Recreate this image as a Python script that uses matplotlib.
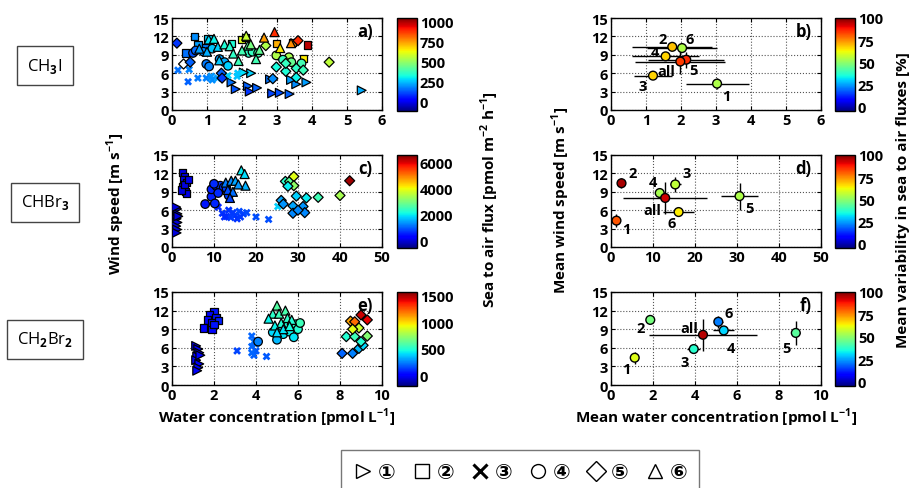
import numpy as np
import matplotlib
matplotlib.use("Agg")
import matplotlib.pyplot as plt
from matplotlib.lines import Line2D
from matplotlib.colors import Normalize

plt.rcParams['font.family'] = ['Open Sans', 'DejaVu Sans']
plt.rcParams['font.weight'] = 'bold'
plt.rcParams['mathtext.fontset'] = 'custom'
plt.rcParams['mathtext.rm'] = 'Open Sans'
plt.rcParams['mathtext.bf'] = 'Open Sans:bold'

# ---- left column: (water conc, wind speed, flux) per cruise ----
# CH3I
a1 = [(1.70, 4.5, 150), (1.82, 3.4, 120), (2.17, 3.9, 130), (2.22, 3.0, 80), (2.43, 3.6, 130),
      (2.26, 6.0, 260), (2.05, 6.1, 280), (2.80, 5.0, 150), (2.86, 2.7, 100), (3.08, 2.8, 110),
      (3.36, 2.6, 130), (3.84, 4.5, 200), (3.55, 4.2, 180), (5.42, 3.2, 220), (3.40, 4.9, 200)]
a2 = [(0.65, 12.0, 180), (0.39, 9.3, 150), (0.74, 10.6, 200), (1.03, 11.6, 260), (0.95, 10.2, 170),
      (1.70, 10.8, 330), (1.98, 11.5, 600), (2.98, 10.8, 720), (3.88, 10.6, 980), (3.76, 8.4, 640),
      (3.45, 11.0, 760), (2.10, 11.8, 540)]
a3 = [(0.17, 6.5, 150), (0.49, 6.6, 170), (0.46, 4.6, 130), (0.74, 5.2, 160), (0.98, 5.2, 170),
      (1.12, 5.5, 190), (1.15, 4.9, 180), (1.60, 5.6, 260), (1.86, 5.5, 240), (1.88, 6.0, 250),
      (1.30, 5.2, 200)]
a4 = [(0.60, 9.3, 120), (0.68, 9.7, 140), (0.98, 7.5, 160), (1.06, 7.1, 170), (1.36, 8.3, 200),
      (1.50, 7.8, 220), (1.60, 7.2, 260), (2.19, 9.3, 350), (2.30, 9.5, 360), (2.46, 9.3, 380),
      (2.98, 8.9, 530), (3.34, 8.6, 520), (3.41, 7.8, 430), (3.17, 8.2, 360), (3.70, 7.6, 380),
      (1.15, 10.0, 250), (0.90, 9.5, 180)]
a5 = [(0.14, 10.9, 80), (0.33, 7.5, np.nan), (0.52, 7.8, 130), (1.41, 6.0, 130), (1.43, 5.2, 90),
      (2.68, 10.5, 530), (2.98, 7.0, 320), (2.88, 5.1, 180), (3.25, 6.3, 330), (3.55, 6.8, 350),
      (3.75, 6.5, 370), (3.55, 5.3, 300), (3.25, 7.6, 360), (4.49, 7.8, 550), (3.60, 11.3, 880)]
a6 = [(0.78, 10.0, 200), (1.05, 11.5, 280), (1.20, 11.6, 300), (1.31, 10.3, 260), (1.50, 10.7, 330),
      (1.65, 10.4, 340), (1.75, 9.2, 350), (1.90, 8.0, 370), (2.12, 12.1, 560), (2.17, 10.5, 400),
      (2.40, 8.3, 380), (2.63, 11.8, 740), (2.93, 12.7, 880), (3.09, 10.1, 640), (3.40, 10.9, 760),
      (1.00, 9.5, 220), (2.00, 9.7, 380), (2.25, 10.7, 450), (1.35, 8.1, 250), (2.50, 9.8, 420)]
# CHBr3
c1 = [(1.2, 6.2, 50), (1.3, 5.4, 40), (1.1, 4.6, 30), (1.3, 4.0, 40), (1.0, 3.4, 30),
      (1.2, 2.85, 30), (1.1, 2.3, 20), (1.5, 5.0, 60), (1.0, 6.5, 40)]
c2 = [(2.5, 12.1, 100), (3.0, 11.5, 120), (2.8, 10.9, 80), (3.5, 10.5, 150), (2.6, 9.9, 100),
      (3.2, 9.1, 80), (3.4, 8.7, 120), (2.2, 9.3, 60), (3.0, 10.2, 90), (3.9, 11.0, 140)]
c3 = [(11, 6.5, 600), (12, 5.5, 700), (13, 5.0, 650), (13.5, 6.0, 700), (14, 4.8, 750),
      (15, 5.2, 800), (15.5, 4.6, 700), (16, 5.8, 850), (17, 5.4, 800), (17.8, 5.6, 850),
      (12.5, 4.9, 650), (14.5, 5.6, 750), (16.3, 4.9, 750), (20, 4.9, 900), (23, 4.5, 900),
      (25.2, 6.6, 1800)]
c4 = [(7.9, 7.0, 500), (9.4, 8.2, 550), (10.2, 7.1, 600), (9.4, 9.4, 550), (10.6, 9.9, 600),
      (11.5, 10.0, 700), (12.3, 9.7, 700), (13.5, 8.4, 800), (10.0, 10.3, 650), (11.0, 8.8, 650),
      (13.0, 9.5, 750)]
c5 = [(26, 7.6, 1500), (27, 10.7, 2300), (28, 10.7, 2800), (29, 11.5, 3900), (29, 10, 3200),
      (27.6, 9.9, 2000), (29.6, 8.3, 1800), (32, 8, 2000), (34.8, 8.1, 2500), (40, 8.4, 3400),
      (42.3, 10.8, 6400), (28.8, 6.7, 1500), (31.2, 6.6, 1400), (28.8, 5.5, 1300), (31.6, 5.6, 1300),
      (26.5, 7.0, 1400), (30, 6.0, 1300)]
c6 = [(12.8, 10.5, 1200), (14.1, 10.8, 1300), (15.1, 10.8, 1500), (16.5, 12.5, 2000),
      (17.3, 11.9, 1900), (17.5, 10.0, 1600), (13.3, 9.3, 900), (14.5, 9.0, 1100),
      (15.8, 10.2, 1400), (13.8, 8.0, 800)]
# CH2Br2
e1 = [(1.15, 6.3, 0), (1.25, 5.8, 10), (1.30, 5.2, 0), (1.20, 4.6, 10), (1.15, 4.0, 0),
      (1.30, 3.4, 10), (1.25, 2.8, 0), (1.20, 2.3, 0), (1.35, 4.8, 20)]
e2 = [(2.0, 11.8, 60), (1.8, 11.4, 40), (1.7, 10.5, 30), (2.1, 10.8, 50), (1.9, 10.0, 40),
      (2.2, 10.4, 80), (1.5, 9.2, 30), (1.9, 9.0, 40), (2.0, 9.8, 60)]
e3 = [(3.8, 7.9, 200), (3.9, 7.0, 220), (3.8, 6.2, 200), (4.0, 5.5, 180), (3.9, 4.8, 190),
      (3.8, 5.2, 200), (4.0, 6.6, 210), (3.1, 5.5, 150), (4.5, 4.6, 180)]
e4 = [(4.1, 7.0, 250), (5.0, 7.3, 350), (5.3, 8.2, 420), (5.6, 8.6, 450), (5.9, 9.8, 520),
      (6.0, 9.0, 500), (5.8, 7.7, 420), (5.5, 9.5, 480), (6.1, 10.0, 550), (5.2, 9.0, 430),
      (4.8, 8.5, 400)]
e5 = [(8.1, 5.1, 200), (8.6, 5.1, 250), (8.9, 5.9, 350), (9.1, 6.4, 400), (8.3, 7.8, 500),
      (8.7, 7.8, 550), (9.0, 7.0, 500), (9.3, 7.9, 700), (8.9, 9.2, 850), (8.5, 10.3, 1100),
      (8.7, 10.2, 1200), (9.0, 11.3, 1450), (9.3, 10.5, 1400), (8.6, 9.0, 900)]
e6 = [(5.0, 12.8, 600), (4.8, 11.5, 520), (5.1, 11.5, 550), (5.4, 12.0, 580), (4.6, 10.7, 450),
      (5.2, 10.0, 500), (5.5, 10.8, 520), (4.9, 9.6, 450), (5.3, 9.0, 420), (5.7, 10.5, 500),
      (5.0, 8.5, 400), (5.6, 9.5, 470)]

# ---- right column: means per cruise ----
mean_labels = ['1', '2', '3', '4', '5', '6', 'all']
b_x = [3.03, 1.75, 1.20, 1.56, 2.15, 2.03, 1.98]
b_y = [4.3, 10.3, 5.6, 8.75, 8.2, 10.1, 7.9]
b_xerr = [0.9, 1.14, 0.55, 0.95, 1.08, 1.0, 1.28]
b_yerr = [0.95, 0.4, 0.4, 0.5, 1.3, 0.5, 2.0]
b_var = [54, 69, 67, 67, 86, 54, 84]
d_x = [1.3, 2.5, 15.3, 11.6, 30.6, 16.1, 12.9]
d_y = [4.3, 10.4, 10.2, 8.8, 8.3, 5.7, 8.0]
d_xerr = [0.4, 0.4, 1.3, 1.0, 4.5, 3.6, 10.0]
d_yerr = [1.0, 0.8, 1.2, 0.8, 2.2, 0.6, 2.6]
d_var = [81, 96, 56, 53, 54, 64, 93]
f_x = [1.13, 1.87, 3.94, 5.37, 8.80, 5.11, 4.38]
f_y = [4.4, 10.5, 5.8, 8.8, 8.4, 10.2, 8.1]
f_xerr = [0.1, 0.1, 0.3, 0.5, 0.2, 0.2, 2.55]
f_yerr = [1.0, 0.7, 0.4, 0.5, 2.0, 1.0, 2.6]
f_var = [60, 47, 37, 30, 43, 21, 95]
b_off = [(9, -12), (-10, 8), (-10, -10), (-11, 4), (7, -10), (8, 9), (-14, -9)]
d_off = [(10, -8), (11, 10), (11, 11), (-7, 11), (10, -12), (-7, -11), (-13, -12)]
f_off = [(-8, -11), (-10, -8), (-9, -13), (7, -18), (-9, -15), (10, 9), (-14, 7)]

cmap = plt.get_cmap('jet').copy()
cmap.set_bad('white')

W, H = 912, 489
fig = plt.figure(figsize=(9.12, 4.89), dpi=100)


def rect(x0, y0, x1, y1):
    return [x0 / W, 1 - y1 / H, (x1 - x0) / W, (y1 - y0) / H]


rows = [(19, 111), (156, 248), (293, 386)]


def style(ax, xmax, xticks):
    ax.set_xlim(0, xmax)
    ax.set_ylim(0, 15)
    ax.set_xticks(xticks)
    ax.set_yticks([0, 3, 6, 9, 12, 15])
    ax.grid(True, linestyle=':', color='#555555', linewidth=0.8)
    ax.tick_params(direction='in', top=True, right=True, length=3, labelsize=10.5, pad=2)
    for lab in ax.get_xticklabels() + ax.get_yticklabels():
        lab.set_fontweight('bold')
    for s in ax.spines.values():
        s.set_linewidth(1.0)


def add_cbar(sc, x0, x1, y0, y1, ticks):
    cax = fig.add_axes(rect(x0, y0, x1, y1))
    cb = fig.colorbar(sc, cax=cax, ticks=ticks)
    cb.ax.tick_params(length=0, labelsize=10.5, pad=2)
    for lab in cb.ax.get_yticklabels():
        lab.set_fontweight('bold')
    cb.outline.set_linewidth(1.0)


left_sets = [(a1, a2, a3, a4, a5, a6), (c1, c2, c3, c4, c5, c6), (e1, e2, e3, e4, e5, e6)]
left_xmax = [6, 50, 10]
left_xticks = [range(0, 7), range(0, 51, 10), range(0, 11, 2)]
left_norms = [Normalize(-125, 1040), Normalize(-550, 6600), Normalize(-190, 1560)]
left_cticks = [[0, 250, 500, 750, 1000], [0, 2000, 4000, 6000], [0, 500, 1000, 1500]]
letters_l = ['a)', 'c)', 'e)']
marks = [('>', 40), ('s', 28), ('X', 32), ('o', 38), ('D', 26), ('^', 42)]

for i, (y0, y1) in enumerate(rows):
    ax = fig.add_axes(rect(172, y0, 382, y1))
    sc = None
    for grp, (m, s) in zip(left_sets[i], marks):
        arr = np.array(grp, dtype=float)
        if m == 'X':
            sc = ax.scatter(arr[:, 0], arr[:, 1], c=arr[:, 2], cmap=cmap, norm=left_norms[i],
                            marker=m, s=s, linewidths=0, zorder=3)
        else:
            sc = ax.scatter(arr[:, 0], arr[:, 1], c=arr[:, 2], cmap=cmap, norm=left_norms[i],
                            marker=m, s=s, edgecolors='k', linewidths=0.9, zorder=3,
                            plotnonfinite=True)
    style(ax, left_xmax[i], left_xticks[i])
    ax.text(0.955, 0.86, letters_l[i], transform=ax.transAxes, ha='right', va='center',
            fontsize=12, fontweight='bold', zorder=5)
    add_cbar(sc, 397, 417, y0, y1 + 1, left_cticks[i])

right_sets = [(b_x, b_y, b_xerr, b_yerr, b_var, b_off),
              (d_x, d_y, d_xerr, d_yerr, d_var, d_off),
              (f_x, f_y, f_xerr, f_yerr, f_var, f_off)]
letters_r = ['b)', 'd)', 'f)']
for i, (y0, y1) in enumerate(rows):
    ax = fig.add_axes(rect(611, y0, 821, y1))
    x, y, xe, ye, v, off = right_sets[i]
    ax.errorbar(x, y, xerr=xe, yerr=ye, fmt='none', ecolor='k', elinewidth=1.0,
                capsize=0, zorder=2)
    sc = ax.scatter(x, y, c=v, cmap=cmap, norm=Normalize(-5, 100), s=40,
                    edgecolors='k', linewidths=1.0, zorder=3)
    for lab, xx, yy, o in zip(mean_labels, x, y, off):
        ax.annotate(lab, (xx, yy), xytext=o, textcoords='offset pixels', ha='center',
                    va='center', fontsize=10.5, fontweight='bold', zorder=4)
    style(ax, left_xmax[i], left_xticks[i])
    ax.text(0.955, 0.86, letters_r[i], transform=ax.transAxes, ha='right', va='center',
            fontsize=12, fontweight='bold', zorder=5)
    add_cbar(sc, 835, 855, y0, y1 + 1, [0, 25, 50, 75, 100])

# axis labels
lab = dict(fontsize=11, fontweight='bold', ha='center', va='center')
fig.text(116 / W, 1 - 204 / H, r'Wind speed [m s$^{\mathbf{-1}}$]', rotation=90, **lab)
fig.text(490 / W, 1 - 200 / H, r'Sea to air flux [pmol m$^{\mathbf{-2}}$ h$^{\mathbf{-1}}$]',
         rotation=90, **lab)
fig.text(561 / W, 1 - 200 / H, r'Mean wind speed [m s$^{\mathbf{-1}}$]', rotation=90, **lab)
fig.text(903 / W, 1 - 200 / H, 'Mean variability in sea to air fluxes [%]', rotation=90, **lab)
fig.text(277 / W, 1 - 418 / H, r'Water concentration [pmol L$^{\mathbf{-1}}$]', **lab)
fig.text(716 / W, 1 - 418 / H, r'Mean water concentration [pmol L$^{\mathbf{-1}}$]', **lab)

# compound boxes
for name, yc in [(r'CH$_3$I', 66), (r'CHBr$_3$', 203), (r'CH$_2$Br$_2$', 340)]:
    fig.text(45 / W, 1 - yc / H, name, ha='center', va='center', fontsize=12,
             fontweight='normal',
             bbox=dict(boxstyle='square,pad=0.6', facecolor='white', edgecolor='#444444',
                       linewidth=1.0))

# cruise legend
handles = [Line2D([], [], marker=m, linestyle='none', markersize=10,
                  markerfacecolor='white', markeredgecolor='k', markeredgewidth=1.0)
           for m, _ in marks]
handles[2] = Line2D([], [], marker='x', linestyle='none', markersize=10, color='k',
                    markeredgewidth=2.2)
names = ['\u2460', '\u2461', '\u2462', '\u2463', '\u2464', '\u2465']
leg = fig.legend(handles, names, loc='lower center', bbox_to_anchor=(520 / W, -0.035),
                 ncol=6, frameon=True, fancybox=False, handletextpad=0.2, columnspacing=0.75,
                 handlelength=1.0, borderpad=0.6,
                 prop=dict(family=['DejaVu Sans', 'Noto Sans CJK SC'], weight='bold', size=15))
leg.get_frame().set_edgecolor('#555555')
leg.get_frame().set_linewidth(1.0)

fig.savefig('out.png', dpi=100)
